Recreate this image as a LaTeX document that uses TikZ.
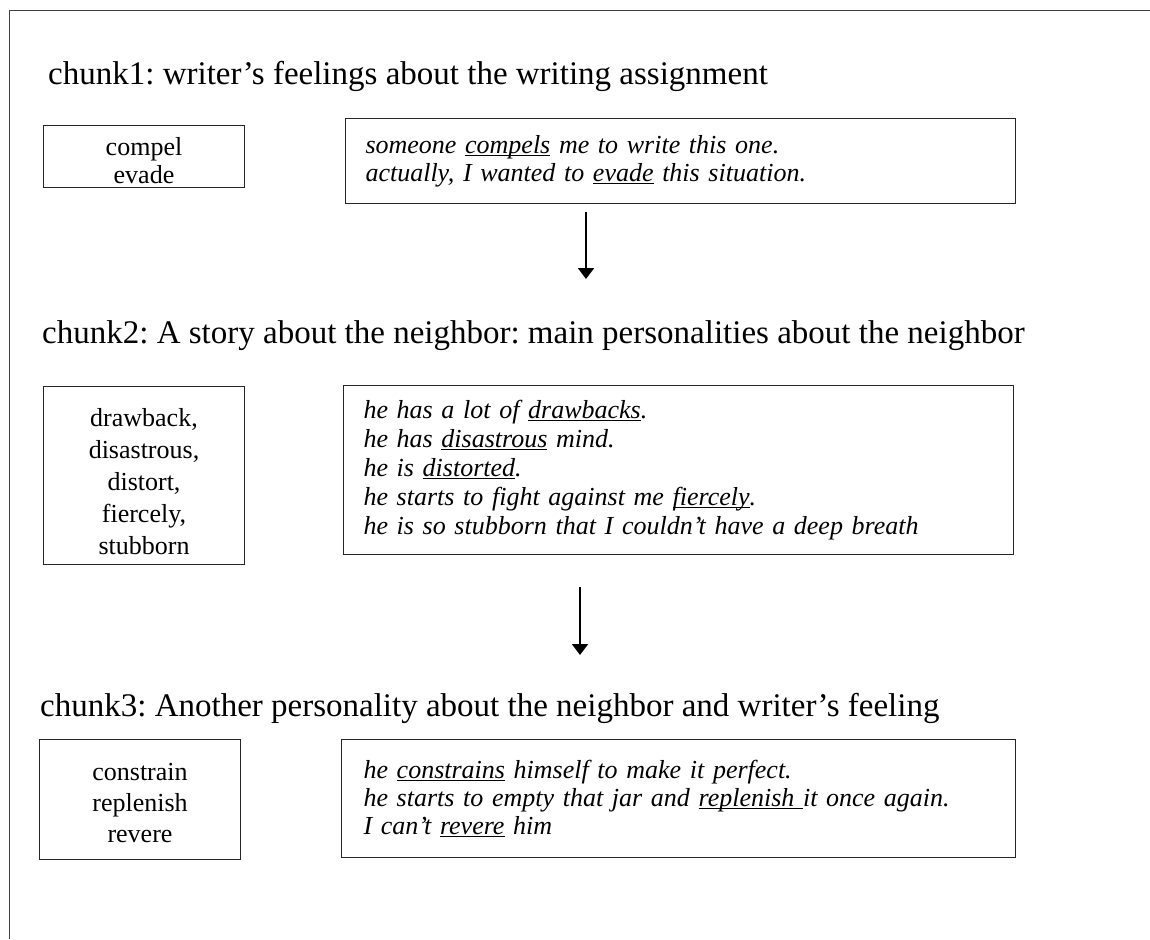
\documentclass[tikz,border=0pt]{standalone}
\usepackage{fontspec}
\setmainfont{Liberation Serif}
\usetikzlibrary{arrows.meta,calc}
\newsavebox\ulbox
\newcommand\ul[1]{\sbox\ulbox{#1}\rlap{\rule[-3pt]{\wd\ulbox}{1.3pt}}\usebox\ulbox}
\begin{document}
\frenchspacing
\begin{tikzpicture}[x=1pt,y=-1pt,
  box/.style={draw=black!85, line width=1pt, inner sep=0pt},
  wordbox/.style={box, anchor=north west, minimum width=201pt, align=center},
  sentbox/.style={box, anchor=north west, inner xsep=20pt, text width=630pt, align=left, font=\itshape\fontsize{26}{29}\selectfont},
  title/.style={anchor=base west, inner sep=0pt, font=\fontsize{33}{38}\selectfont},
  arr/.style={line width=2pt, -{Triangle[width=16pt,length=11pt]}}]
\useasboundingbox (0,0) rectangle (1150,939);
\draw[line width=1pt, black!75] (1150,11) -- (9,11) -- (9,939);

% chunk 1
\node[title] (t1) at (48,85) {chunk1: writer’s feelings about the writing assignment};
\node[wordbox, minimum height=62pt, font=\fontsize{26}{28}\selectfont] (l1) at (43,125) {\rule{0pt}{26pt}compel\\evade};
\node[sentbox, minimum height=85pt, font=\itshape\fontsize{26}{28}\selectfont] (r1) at (345,118)
  {someone \ul{compels} me to write this one.\\actually, I wanted to \ul{evade} this situation.};

% chunk 2
\node[title] (t2) at (42,343) {chunk2: A story about the neighbor: main personalities about the neighbor};
\node[wordbox, minimum height=178pt, font=\fontsize{26}{32}\selectfont] (l2) at (43,386)
  {\rule{0pt}{30pt}drawback,\\disastrous,\\distort,\\fiercely,\\stubborn};
\node[sentbox, minimum height=169pt] (r2) at (343,385)
  {he has a lot of \ul{drawbacks}.\\he has \ul{disastrous} mind.\\he is \ul{distorted}.\\he starts to fight against me \ul{fiercely}.\\he is so stubborn that I couldn’t have a deep breath};

% chunk 3
\node[title] (t3) at (40,716) {chunk3: Another personality about the neighbor and writer’s feeling};
\node[wordbox, minimum height=120pt, font=\fontsize{26}{31}\selectfont] (l3) at (39,739)
  {\rule{0pt}{24pt}constrain\\replenish\\revere};
\node[sentbox, minimum width=674pt, minimum height=118pt, font=\itshape\fontsize{26}{28}\selectfont] (r3) at (341,739)
  {he \ul{constrains} himself to make it perfect.\\he starts to empty that jar and \ul{replenish\ }it once again.\\I can’t \ul{revere} him};

% arrows
\coordinate (a1) at (586,279);
\coordinate (a2) at (580,655);
\draw[arr] ($(r1.south west)+(241,8)$) -- (a1);
\draw[arr] ($(r2.south west)+(237,32)$) -- (a2);
\end{tikzpicture}
\end{document}
